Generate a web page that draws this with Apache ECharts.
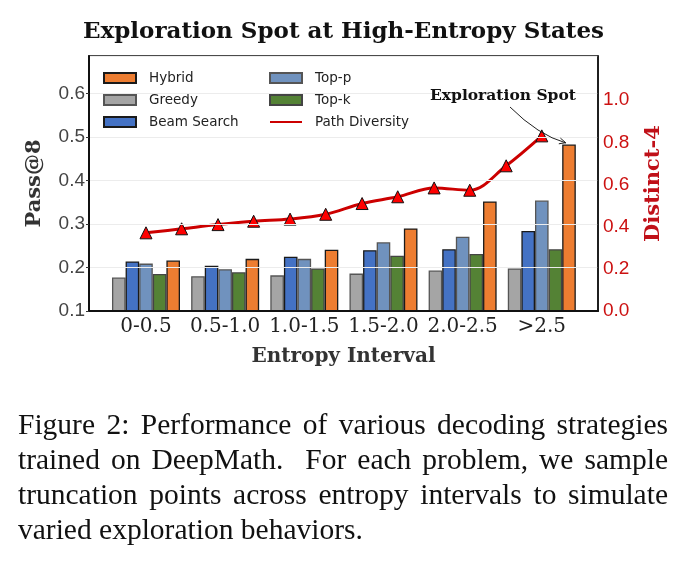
<!DOCTYPE html>
<html>
<head>
<meta charset="utf-8">
<script src="https://cdn.jsdelivr.net/npm/echarts@6/dist/echarts.min.js"></script>
<style>
  html, body { margin: 0; padding: 0; background: #fff; }
  #wrap { position: relative; width: 687px; height: 562px; overflow: hidden; }
  #chart { position: absolute; left: 0; top: 0; width: 687px; height: 562px; }
  #caption { position: absolute; left: 18px; top: 407px; width: 650px;
    font-family: 'Liberation Serif', 'Times New Roman', serif; font-size: 29.5px; line-height: 35px; color: #111; }
  #caption .j { text-align: justify; text-align-last: justify; white-space: nowrap; }
  #caption .l { text-align: left; white-space: nowrap; }
</style>
</head>
<body>
<div id="wrap">
  <div id="chart"></div>
  <div id="caption">
    <div class="j">Figure 2: Performance of various decoding strategies</div>
    <div class="j">trained on DeepMath.&nbsp; For each problem, we sample</div>
    <div class="j">truncation points across entropy intervals to simulate</div>
    <div class="l">varied exploration behaviors.</div>
  </div>
</div>
<script>
// ---- data ----
const categories = ['0-0.5', '0.5-1.0', '1.0-1.5', '1.5-2.0', '2.0-2.5', '>2.5'];
const categoryPos = [0, 1, 2, 3, 4, 5];
const greedy = [0.177, 0.180, 0.182, 0.186, 0.193, 0.198];
const beamSearch = [0.214, 0.204, 0.225, 0.240, 0.242, 0.284];
const topP = [0.209, 0.196, 0.220, 0.258, 0.271, 0.354];
const topK = [0.185, 0.189, 0.198, 0.227, 0.231, 0.242];
const hybrid = [0.216, 0.220, 0.241, 0.290, 0.352, 0.483];
const diversityX = [0, 0.45, 0.91, 1.36, 1.82, 2.27, 2.73, 3.18, 3.64, 4.09, 4.55, 5.0];
const diversity = [0.371, 0.390, 0.410, 0.426, 0.436, 0.459, 0.510, 0.542, 0.584, 0.573, 0.689, 0.831];
const leftTicks = [0.1, 0.2, 0.3, 0.4, 0.5, 0.6];
const rightTicks = [0.0, 0.2, 0.4, 0.6, 0.8, 1.0];

const chart = echarts.init(document.getElementById('chart'), null, { renderer: 'canvas' });

function barSeries(name, values, color, border) {
  return {
    name: name,
    type: 'bar',
    xAxisIndex: 0,
    yAxisIndex: 0,
    barWidth: 13.6,
    barGap: '0%',
    data: values.map((v, i) => [categoryPos[i], v]),
    itemStyle: { color: color, borderColor: border, borderWidth: 1.3 },
    emphasis: { disabled: true },
    z: 2
  };
}

const serifBold = { fontFamily: 'DejaVu Serif', fontWeight: 'bold' };
const legendText = { fontFamily: 'DejaVu Sans', fontSize: 13.5, color: '#222', padding: [0, 0, 0, 8] };

const option = {
  animation: false,
  backgroundColor: '#ffffff',
  title: {
    text: 'Exploration Spot at High-Entropy States',
    left: 'center',
    top: 16,
    textStyle: { fontFamily: 'DejaVu Serif', fontWeight: 'bold', fontSize: 23, color: '#111' }
  },
  grid: {
    left: 89, right: 89, top: 56, bottom: 251,
    show: true, borderColor: '#111', borderWidth: 1.5, backgroundColor: 'transparent'
  },
  legend: [
    {
      left: 103, top: 71, padding: 0, orient: 'vertical', itemWidth: 32, itemHeight: 10, itemGap: 8,
      textStyle: legendText,
      data: [
        { name: 'Hybrid', icon: 'rect' },
        { name: 'Greedy', icon: 'rect' },
        { name: 'Beam Search', icon: 'rect' }
      ]
    },
    {
      left: 269, top: 71, padding: 0, orient: 'vertical', itemWidth: 32, itemHeight: 10, itemGap: 8,
      textStyle: legendText,
      data: [
        { name: 'Top-p', icon: 'rect' },
        { name: 'Top-k', icon: 'rect' },
        { name: 'Path Diversity', itemStyle: { opacity: 0 } }
      ]
    }
  ],
  xAxis: {
    type: 'value',
    min: -0.72,
    max: 5.71,
    z: 5,
    splitLine: { show: false },
    axisTick: { show: false },
    axisLine: { show: true, onZero: false, lineStyle: { color: '#111', width: 2 } },
    axisLabel: {
      customValues: categoryPos,
      formatter: v => categories[Math.round(v)],
      fontFamily: 'DejaVu Serif', fontSize: 20, color: '#222', margin: 6
    },
    name: 'Entropy Interval',
    nameLocation: 'middle',
    nameGap: 36,
    nameTextStyle: Object.assign({ fontSize: 20, color: '#333' }, serifBold)
  },
  yAxis: [
    {
      type: 'value',
      position: 'left',
      min: 0.1,
      max: 0.6865,
      interval: 0.1,
      z: 5,
      axisLine: { show: true, onZero: false, lineStyle: { color: '#111', width: 2 } },
      axisTick: { show: true, length: 3, lineStyle: { color: '#333' } },
      splitLine: { show: true, lineStyle: { color: '#ececec', width: 1 } },
      axisLabel: {
        showMaxLabel: false,
        formatter: v => (leftTicks.some(t => Math.abs(t - v) < 1e-6) ? v.toFixed(1) : ''),
        fontFamily: 'Liberation Sans', fontSize: 19, color: '#444', margin: 4
      },
      name: 'Pass@8',
      nameLocation: 'middle',
      nameRotate: 90,
      nameGap: 44,
      nameTextStyle: Object.assign({ fontSize: 21, color: '#333' }, serifBold)
    },
    {
      type: 'value',
      position: 'right',
      min: 0,
      max: 1.21,
      interval: 0.2,
      z: 5,
      axisLine: { show: true, onZero: false, lineStyle: { color: '#111', width: 1.5 } },
      axisTick: { show: false },
      splitLine: { show: false },
      axisLabel: {
        showMaxLabel: false,
        formatter: v => (rightTicks.some(t => Math.abs(t - v) < 1e-6) ? v.toFixed(1) : ''),
        fontFamily: 'Liberation Sans', fontSize: 19, color: '#cc1111', margin: 5
      },
      name: 'Distinct-4',
      nameLocation: 'middle',
      nameRotate: 90,
      nameGap: 45,
      nameTextStyle: Object.assign({ fontSize: 21, color: '#c01018' }, serifBold)
    }
  ],
  series: [
    barSeries('Greedy', greedy, '#a5a5a5', '#555555'),
    barSeries('Beam Search', beamSearch, '#4472c4', '#1a1a1a'),
    barSeries('Top-p', topP, '#7092be', '#555555'),
    barSeries('Top-k', topK, '#548235', '#444444'),
    barSeries('Hybrid', hybrid, '#ed7d31', '#1a1a1a'),
    {
      name: 'Path Diversity',
      type: 'line',
      xAxisIndex: 0,
      yAxisIndex: 1,
      smooth: 0.35,
      data: diversity.map((v, i) => [diversityX[i], v]),
      lineStyle: { color: '#cc0000', width: 3 },
      itemStyle: { color: '#ff0000', borderColor: '#111', borderWidth: 1 },
      symbol: 'triangle',
      symbolSize: 12,
      emphasis: { disabled: true },
      z: 4
    }
  ],
  graphic: [
    {
      type: 'text',
      left: 430, top: 88,
      style: { text: 'Exploration Spot', font: 'bold 15.5px "DejaVu Serif"', fill: '#111' },
      z: 10
    },
    {
      type: 'bezierCurve',
      shape: { x1: 510, y1: 107, cpx1: 538, cpy1: 135, x2: 566, y2: 143 },
      style: { stroke: '#222', lineWidth: 1, fill: null },
      z: 10
    },
    {
      type: 'polyline',
      shape: { points: [[560.4, 138.1], [565.7, 142.7], [558.8, 143.8]] },
      style: { stroke: '#222', lineWidth: 1, fill: null },
      z: 10
    }
  ]
};

chart.setOption(option);
</script>
</body>
</html>
